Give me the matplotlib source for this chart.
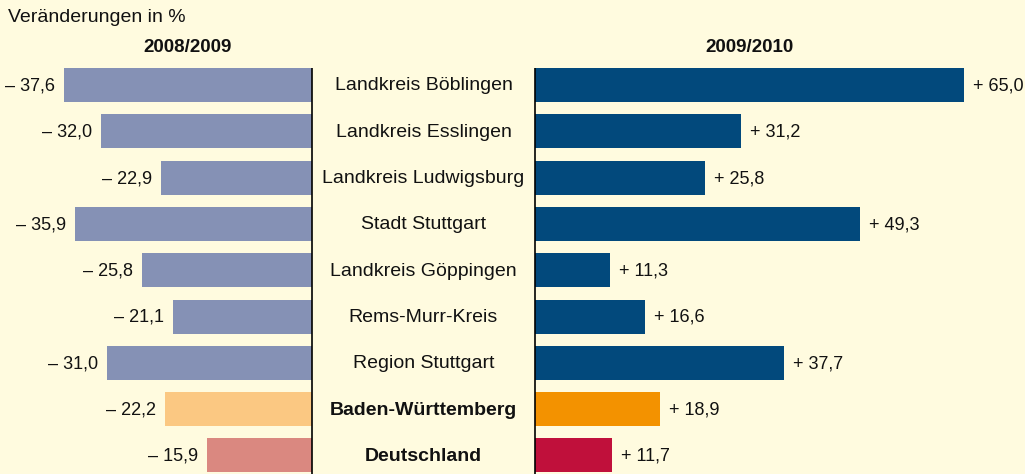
import matplotlib
matplotlib.use("Agg")
import matplotlib.pyplot as plt

regions = ["Landkreis Böblingen", "Landkreis Esslingen", "Landkreis Ludwigsburg",
           "Stadt Stuttgart", "Landkreis Göppingen", "Rems-Murr-Kreis",
           "Region Stuttgart", "Baden-Württemberg", "Deutschland"]
change_2009 = [-37.6, -32.0, -22.9, -35.9, -25.8, -21.1, -31.0, -22.2, -15.9]
change_2010 = [65.0, 31.2, 25.8, 49.3, 11.3, 16.6, 37.7, 18.9, 11.7]
left_colors = ["#8591b5"] * 7 + ["#fbc882", "#da8880"]
right_colors = ["#02497c"] * 7 + ["#f39200", "#c0103b"]
bold_rows = [False] * 7 + [True, True]

BG = "#fffbdf"
W, H = 1025, 474
fig = plt.figure(figsize=(W / 100, H / 100), dpi=100, facecolor=BG)
FONT = "Liberation Sans"
FS_VAL = 13
FS_NAME = 14
FS_HEAD = 13.5

scale = 6.6  # px per percent
top_px = 60
y0_px, dy_px = 85, 46.3
ymax = (H - y0_px) / dy_px
ymin = (top_px - y0_px) / dy_px
line_top = (68 - y0_px) / dy_px

def fx(px):
    return px / W

def fy(px):
    return 1 - px / H

axL = fig.add_axes([0, 0, fx(312), fy(top_px)])
axR = fig.add_axes([fx(535), 0, fx(W - 535), fy(top_px)])
for ax in (axL, axR):
    ax.set_facecolor(BG)
    ax.patch.set_alpha(0)
    ax.axis("off")
    ax.set_ylim(ymax, ymin)
axL.set_xlim(-312 / scale, 0)
axR.set_xlim(0, (W - 535) / scale)

ypos = list(range(len(regions)))
bh = 34 / dy_px
axL.barh(ypos, change_2009, height=bh, color=left_colors, zorder=2)
axR.barh(ypos, change_2010, height=bh, color=right_colors, zorder=2)
axL.vlines(0, line_top, ymax, color="black", lw=1.2, zorder=3, clip_on=False)
axR.vlines(0, line_top, ymax, color="black", lw=1.2, zorder=3, clip_on=False)

for y, v in zip(ypos, change_2009):
    axL.annotate("– " + f"{abs(v):.1f}".replace(".", ","), (v, y), xytext=(-9, -1),
                 textcoords="offset pixels", ha="right", va="center",
                 fontsize=FS_VAL, family=FONT, color="#111111")
for y, v in zip(ypos, change_2010):
    axR.annotate("+ " + f"{v:.1f}".replace(".", ","), (v, y), xytext=(9, -1),
                 textcoords="offset pixels", ha="left", va="center",
                 fontsize=FS_VAL, family=FONT, color="#111111", annotation_clip=False)

for i, (name, b) in enumerate(zip(regions, bold_rows)):
    fig.text(fx(423.5), fy(y0_px + dy_px * i + 1), name, ha="center", va="center",
             fontsize=FS_NAME, family=FONT, fontweight="bold" if b else "normal",
             color="#111111")

fig.text(fx(8), fy(18), "Veränderungen in %", ha="left", va="center",
         fontsize=FS_NAME, family=FONT, color="#111111")
fig.text(fx(188), fy(47), "2008/2009", ha="center", va="center",
         fontsize=FS_HEAD, family=FONT, fontweight="bold", color="#111111")
fig.text(fx(750), fy(47), "2009/2010", ha="center", va="center",
         fontsize=FS_HEAD, family=FONT, fontweight="bold", color="#111111")

fig.savefig("out.png", dpi=100, facecolor=BG)
